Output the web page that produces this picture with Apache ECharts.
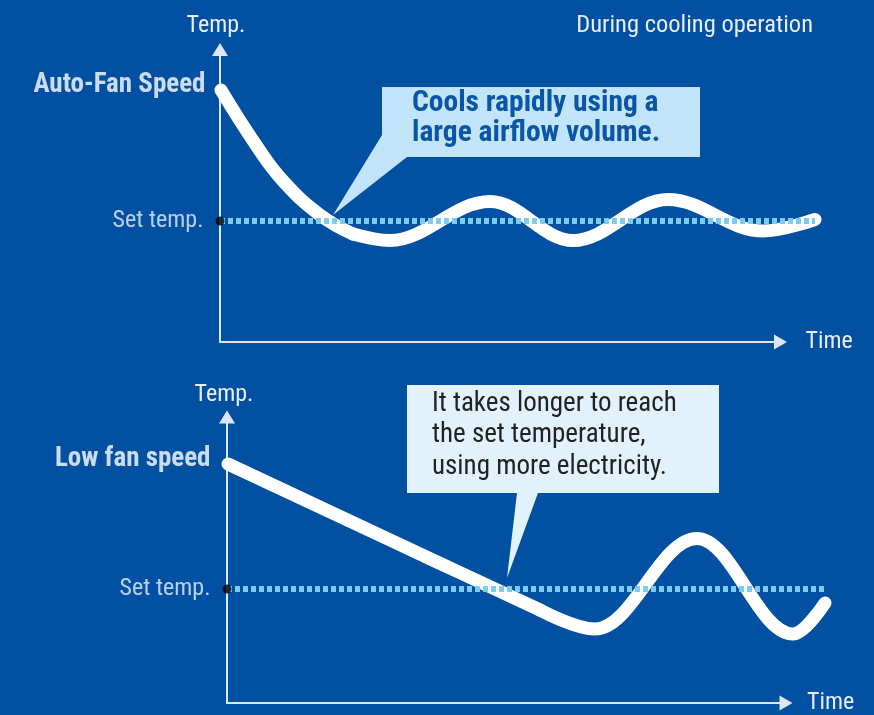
<!DOCTYPE html>
<html>
<head>
<meta charset="utf-8">
<script src="https://cdn.jsdelivr.net/npm/echarts@6/dist/echarts.min.js"></script>
<style>
html,body{margin:0;padding:0;background:#0150A1;}
#chart{width:874px;height:715px;}
</style>
</head>
<body>
<div id="chart"></div>
<script>
// ---- data ----
const setTemp = 121;
// Auto-Fan Speed: fast initial drop, then oscillation around the set temp
const autoDropTime = [1, 38, 64, 100, 133];
const autoDropTemp = [252, 194, 160, 127, 108];
const autoWaveTime = [133, 170, 270, 353, 448, 543, 595];
const autoWaveTemp = [108, 101.5, 140.5, 101.5, 142.5, 111, 122.5];
// Low fan speed: slow linear drop, then larger oscillation
const lowDropTime = [1, 210, 313];
const lowDropTemp = [246, 148, 100];
const lowWaveTime = [313, 368, 470, 566, 598];
const lowWaveTemp = [100, 81, 171.5, 76, 107];
const topTimeMax = 595;
const lowTimeMax = 598;

const labels = {
  title: 'During cooling operation',
  auto: 'Auto-Fan Speed',
  low: 'Low fan speed',
  setTemp: 'Set temp.',
  temp: 'Temp.',
  time: 'Time',
  callout1: ['Cools rapidly using a', 'large airflow volume.'],
  callout2: ['It takes longer to reach', 'the set temperature,', 'using more electricity.']
};

const FONT = '"Liberation Sans Narrow", "Roboto Condensed", "DejaVu Sans Condensed", "Arial Narrow", sans-serif';
const LIGHT = '#e8eef7';
const CURVE = '#ffffff';
const DOT = '#7ccbf3';
const AXIS = '#dde6f2';

function zip(xs, ys){ return xs.map((x,i)=>[x, ys[i]]); }

const chart = echarts.init(document.getElementById('chart'), null, {renderer:'canvas'});

function hiddenAxis(extra){
  return Object.assign({type:'value', show:false, splitLine:{show:false}}, extra);
}
function visAxis(extra){
  return Object.assign({
    type:'value', min:0, max:1,
    axisTick:{show:false}, axisLabel:{show:false}, splitLine:{show:false},
    nameTextStyle:{color:LIGHT, fontFamily:FONT, fontSize:24}
  }, extra);
}
function arrowLine(size){
  return {show:true, lineStyle:{color:AXIS, width:2}, symbol:['none','triangle'], symbolSize:size};
}
function curve(xi, yi, xs, ys, mono){
  const s = {
    type:'line', xAxisIndex:xi, yAxisIndex:yi, symbol:'none', z:3,
    smooth: mono ? 0.363 : 0.45,
    lineStyle:{color:CURVE, width:13, cap:'round', join:'round'},
    data: zip(xs, ys)
  };
  if (mono) s.smoothMonotone = 'x';
  return s;
}
function startLabel(xi, yi, x, y, text, dist){
  return {
    type:'scatter', xAxisIndex:xi, yAxisIndex:yi, symbolSize:1, z:7,
    itemStyle:{color:'rgba(0,0,0,0)'},
    label:{show:true, position:'left', distance:dist, offset:[0,-5], formatter:text,
      color:'#ffffff', fontFamily:FONT, fontWeight:'bold', fontSize:27},
    data:[[x,y]]
  };
}
function setLine(xi, yi, xmax){
  return {
    type:'line', xAxisIndex:xi, yAxisIndex:yi, symbol:'none', z:4,
    lineStyle:{color:DOT, width:6, type:[5,3]},
    data:[[0,setTemp],[xmax,setTemp]]
  };
}
function setDot(xi, yi){
  return {
    type:'scatter', xAxisIndex:xi, yAxisIndex:yi, symbolSize:9, z:6,
    itemStyle:{color:'#000'},
    label:{show:true, position:'left', distance:12, formatter:labels.setTemp,
      color:LIGHT, fontFamily:FONT, fontSize:24},
    data:[[0,setTemp]]
  };
}

const option = {
  backgroundColor:'#0150A1',
  animation:false,
  grid:[
    {left:220, top:49.5, width:560.5, height:292.5},   // top axes
    {left:220, top:42, width:595, height:300},          // top data
    {left:227, top:417, width:559, height:293},         // bottom axes
    {left:227, top:410, width:598, height:300}          // bottom data
  ],
  xAxis:[
    visAxis({gridIndex:0, name:labels.time, nameLocation:'end', nameGap:25, axisLine:arrowLine([15,13])}),
    hiddenAxis({gridIndex:1, min:0, max:topTimeMax}),
    visAxis({gridIndex:2, name:labels.time, nameLocation:'end', nameGap:21, axisLine:arrowLine([15,13])}),
    hiddenAxis({gridIndex:3, min:0, max:lowTimeMax})
  ],
  yAxis:[
    visAxis({gridIndex:0, name:labels.temp, nameLocation:'end', nameGap:12,
      nameTextStyle:{color:LIGHT, fontFamily:FONT, fontSize:24, padding:[0,8,0,0]},
      axisLine:arrowLine([16,13])}),
    hiddenAxis({gridIndex:1, min:0, max:300}),
    visAxis({gridIndex:2, name:labels.temp, nameLocation:'end', nameGap:10,
      nameTextStyle:{color:LIGHT, fontFamily:FONT, fontSize:24, padding:[0,6,0,0]},
      axisLine:arrowLine([16,13])}),
    hiddenAxis({gridIndex:3, min:0, max:300})
  ],
  series:[
    curve(1, 1, autoDropTime, autoDropTemp, false),
    curve(1, 1, autoWaveTime, autoWaveTemp, true),
    startLabel(1, 1, autoDropTime[0], autoDropTemp[0], labels.auto, 15),
    setLine(1, 1, topTimeMax),
    setDot(1, 1),
    curve(3, 3, lowDropTime, lowDropTemp, false),
    curve(3, 3, lowWaveTime, lowWaveTemp, true),
    startLabel(3, 3, lowDropTime[0], lowDropTemp[0], labels.low, 17),
    setLine(3, 3, lowTimeMax),
    setDot(3, 3)
  ],
  graphic:[
    {type:'text', x:813, y:26, z:10,
      style:{text:labels.title, fill:LIGHT, font:'24.5px '+FONT, align:'right', verticalAlign:'middle'}},
    // callout 1
    {type:'polygon', z:8, shape:{points:[[382,87],[700,87],[700,157],[407,157],[333,215],[382,135]]},
      style:{fill:'#c2e4f8'}},
    {type:'text', z:9, x:412, y:104,
      style:{text:labels.callout1[0], fill:'#0a55a5', font:'bold 29.5px '+FONT, verticalAlign:'middle'}},
    {type:'text', z:9, x:412, y:134,
      style:{text:labels.callout1[1], fill:'#0a55a5', font:'bold 29.5px '+FONT, verticalAlign:'middle'}},
    // callout 2
    {type:'polygon', z:8, shape:{points:[[407,385],[719,385],[719,493],[538,493],[507,578],[517,493],[407,493]]},
      style:{fill:'#e2f2fc'}},
    {type:'text', z:9, x:432, y:404,
      style:{text:labels.callout2[0], fill:'#222', font:'27px '+FONT, verticalAlign:'middle'}},
    {type:'text', z:9, x:432, y:435,
      style:{text:labels.callout2[1], fill:'#222', font:'27px '+FONT, verticalAlign:'middle'}},
    {type:'text', z:9, x:432, y:467,
      style:{text:labels.callout2[2], fill:'#222', font:'27px '+FONT, verticalAlign:'middle'}}
  ]
};
chart.setOption(option);
</script>
</body>
</html>
